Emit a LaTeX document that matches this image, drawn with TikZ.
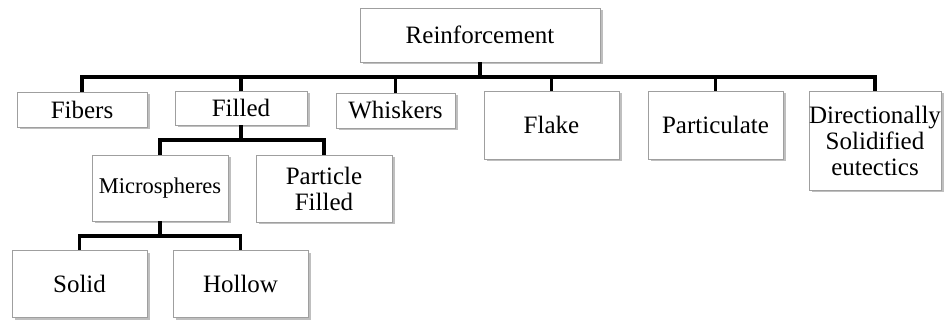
\documentclass[tikz,border=0pt]{standalone}
\usepackage{fontspec}
\setmainfont{Liberation Serif}
\usetikzlibrary{shadows}
\begin{document}
\begin{tikzpicture}[x=1pt,y=-1pt,
  box/.style={draw=gray!75, line width=0.9pt, fill=white, align=center,
    inner sep=0pt, font=\fontsize{25}{26}\selectfont,
    drop shadow={opacity=0.5, shadow xshift=2.5pt, shadow yshift=-2.5pt}},
  link/.style={line width=3.5pt, line join=miter, draw=black}]
\useasboundingbox (0,0) rectangle (944,320);
\node[box, minimum width=240pt, minimum height=54pt] (R) at (480,35) {Reinforcement};
\node[box, minimum width=130pt, minimum height=35pt] (fib) at (82,109.5) {Fibers};
\node[box, minimum width=132pt, minimum height=34pt] (fil) at (241,108) {Filled};
\node[box, minimum width=119pt, minimum height=35pt] (whi) at (395.5,110.5) {Whiskers};
\node[box, minimum width=135pt, minimum height=68pt] (fla) at (551.5,125) {Flake};
\node[box, minimum width=135pt, minimum height=68pt] (par) at (715.5,125) {Particulate};
\node[box, minimum width=132pt, minimum height=99pt] (dir) at (875,140.5) {Directionally\\Solidified\\eutectics};
\node[box, minimum width=136pt, minimum height=66pt, font=\fontsize{22.5}{23}\selectfont] (mic) at (160,188) {Microspheres};
\node[box, minimum width=136pt, minimum height=67pt] (pf) at (324,188.5) {Particle\\Filled};
\node[box, minimum width=135pt, minimum height=67pt] (sol) at (79.5,283.5) {Solid};
\node[box, minimum width=135pt, minimum height=67pt] (hol) at (240.5,283.5) {Hollow};
\coordinate (b1) at (480,77);
\coordinate (b2) at (241,140);
\coordinate (b3) at (160,236);
\draw[link] (R.south) -- (b1);
\foreach \n in {fib,fil,whi,fla,par,dir} \draw[link] (b1) -| (\n.north);
\draw[link] (fil.south) -- (b2);
\foreach \n in {mic,pf} \draw[link] (b2) -| (\n.north);
\draw[link] (mic.south) -- (b3);
\foreach \n in {sol,hol} \draw[link] (b3) -| (\n.north);
\end{tikzpicture}
\end{document}
